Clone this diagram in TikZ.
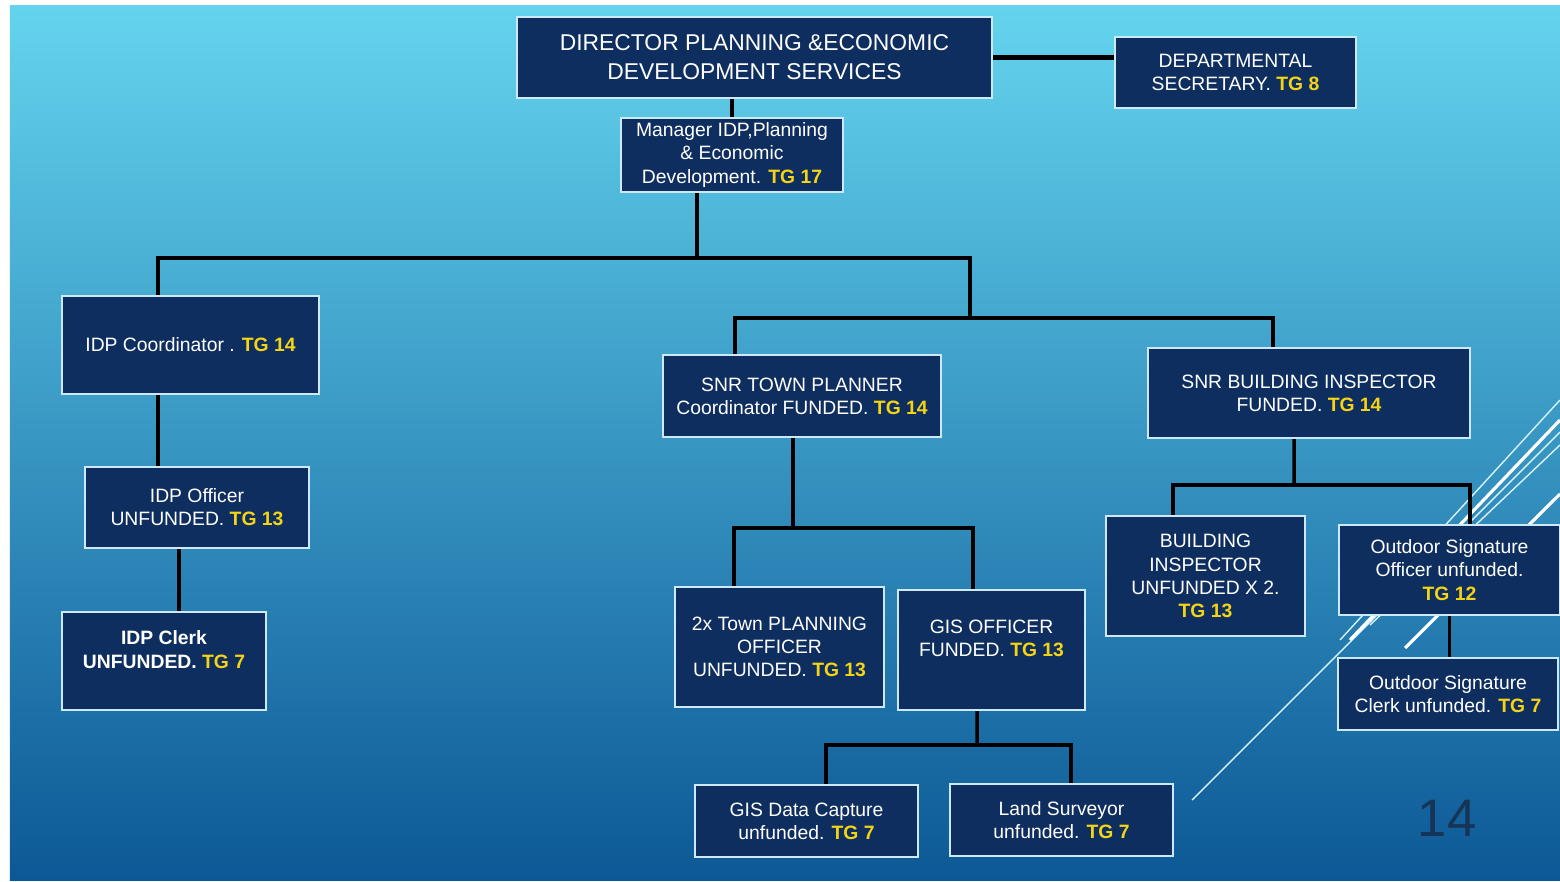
\documentclass[tikz,border=0pt]{standalone}
\usepackage{fontspec}
\setmainfont{Liberation Sans}
\definecolor{navy}{RGB}{15,46,96}
\definecolor{boxline}{RGB}{205,232,246}
\definecolor{tgyellow}{RGB}{245,212,20}
\definecolor{bgtop}{RGB}{100,212,238}
\definecolor{bgmid}{RGB}{52,160,208}
\definecolor{bgbot}{RGB}{12,88,150}
\definecolor{pagenum}{RGB}{22,52,86}
\usetikzlibrary{positioning, calc}
\newcommand{\tg}[1]{\textbf{\textcolor{tgyellow}{TG #1}}}

\begin{document}
\begin{tikzpicture}[
  box/.style={rectangle, draw=boxline, line width=1.2pt, fill=navy, text=white,
              align=center, inner sep=2pt, font=\fontsize{11}{13.2}\selectfont},
  link/.style={draw=black, line width=2pt},
  deco/.style={draw=white!85!cyan, line width=0.8pt},
  decothick/.style={draw=white, line width=1.8pt}
]
  \useasboundingbox (0,0) rectangle (31.2,-17.64);
  \fill[white] (0,0) rectangle (31.2,-17.64);
  \shade[top color=bgtop, middle color=bgmid, bottom color=bgbot]
    (0.2,-0.12) rectangle (31.2,-17.60);

  % slide decoration
  \draw[deco] (23.84,-16.00) -- (31.20,-8.64);
  \draw[deco] (26.80,-12.80) -- (31.20,-8.00);
  \draw[deco] (27.40,-12.50) -- (31.20,-8.90);
  \draw[decothick] (27.00,-12.80) -- (31.20,-8.40);
  \draw[decothick] (28.10,-12.96) -- (31.20,-9.88);

  % Director and secretary
  \node[box, font=\fontsize{13}{16.5}\selectfont, minimum width=9.5cm, minimum height=1.62cm]
    (dir) at (15.09,-1.15) {DIRECTOR PLANNING \&ECONOMIC\\DEVELOPMENT SERVICES};
  \node[box, minimum width=4.82cm, minimum height=1.42cm]
    (sec) at (24.71,-1.45) {DEPARTMENTAL\\SECRETARY. \tg{8}};

  % Manager
  \node[box, minimum width=4.44cm, minimum height=1.48cm]
    (mgr) at (14.64,-3.10) {Manager IDP,Planning\\\& Economic\\Development. \tg{17}};

  % IDP branch
  \node[box, minimum width=5.14cm, minimum height=1.96cm]
    (idpc) at (3.81,-6.90) {IDP Coordinator . \tg{14}};
  \node[box, minimum width=4.48cm, minimum height=1.62cm]
    (idpo) at (3.94,-10.15) {IDP Officer\\UNFUNDED. \tg{13}};
  \node[box, font=\fontsize{11}{13.2}\selectfont\bfseries, minimum width=4.08cm, minimum height=1.96cm]
    (idpk) at (3.28,-13.22) {IDP Clerk\\UNFUNDED. \tg{7}\\\mbox{}};

  % Town planning branch
  \node[box, minimum width=5.56cm, minimum height=1.64cm]
    (snrtp) at (16.04,-7.92) {SNR TOWN PLANNER\\Coordinator FUNDED. \tg{14}};
  \node[box, minimum width=4.18cm, minimum height=2.40cm]
    (tpo) at (15.59,-12.94) {2x Town PLANNING\\OFFICER\\UNFUNDED. \tg{13}};
  \node[box, minimum width=3.74cm, minimum height=2.40cm]
    (gis) at (19.83,-13.00) {GIS OFFICER\\FUNDED. \tg{13}\\\mbox{}};
  \node[box, minimum width=4.46cm, minimum height=1.44cm]
    (gdc) at (16.13,-16.42) {GIS Data Capture\\unfunded. \tg{7}};
  \node[box, minimum width=4.46cm, minimum height=1.44cm]
    (ls) at (21.23,-16.40) {Land Surveyor\\unfunded. \tg{7}};

  % Building branch
  \node[box, minimum width=6.44cm, minimum height=1.80cm]
    (snrbi) at (26.18,-7.86) {SNR BUILDING INSPECTOR\\FUNDED. \tg{14}};
  \node[box, minimum width=3.98cm, minimum height=2.40cm]
    (bi) at (24.11,-11.52) {BUILDING\\INSPECTOR\\UNFUNDED X 2.\\\tg{13}};
  \node[box, minimum width=4.42cm, minimum height=1.80cm]
    (oso) at (28.99,-11.40) {Outdoor Signature\\Officer unfunded.\\\tg{12}};
  \node[box, minimum width=4.40cm, minimum height=1.44cm]
    (osc) at (28.96,-13.88) {Outdoor Signature\\Clerk unfunded. \tg{7}};

  % page number
  \node[font=\fontsize{30}{30}\selectfont, text=pagenum] (pnum) at (28.94,-16.36) {14};

  % bus junctions
  \coordinate (j1) at (13.94,-5.16);
  \coordinate (j2) at (19.40,-6.36);
  \coordinate (j3) at (15.86,-10.56);
  \coordinate (j4) at (25.88,-9.70);
  \coordinate (j5) at (19.54,-14.90);

  % Connectors
  \draw[link, line width=2.4pt] (dir.east) -- (dir.east -| sec.west);
  \draw[link] (mgr.north) -- (mgr.north |- dir.south);
  \draw[link] ([xshift=-0.7cm]mgr.south) -- (j1);
  \draw[link] ([xshift=-0.65cm]idpc.north) |- (j1) -| (j2);
  \draw[link] ([xshift=-1.34cm]snrtp.north) |- (j2) -| ([xshift=-0.72cm]snrbi.north);
  \draw[link] ([xshift=-0.65cm]idpc.south) -- ([xshift=-0.78cm]idpo.north);
  \draw[link] ([xshift=-0.36cm]idpo.south) -- ([xshift=0.30cm]idpk.north);
  \draw[link] ([xshift=-0.18cm]snrtp.south) -- (j3);
  \draw[link] ([xshift=-0.91cm]tpo.north) |- (j3) -| ([xshift=-0.37cm]gis.north);
  \draw[link] ([xshift=-0.30cm]snrbi.south) -- (j4);
  \draw[link] ([xshift=-0.65cm]bi.north) |- (j4) -| ([xshift=0.41cm]oso.north);
  \draw[link] (oso.south) -- (osc.north -| oso.south);
  \draw[link] ([xshift=-0.29cm]gis.south) -- (j5);
  \draw[link] ([xshift=0.39cm]gdc.north) |- (j5) -| ([xshift=0.19cm]ls.north);
\end{tikzpicture}
\end{document}
